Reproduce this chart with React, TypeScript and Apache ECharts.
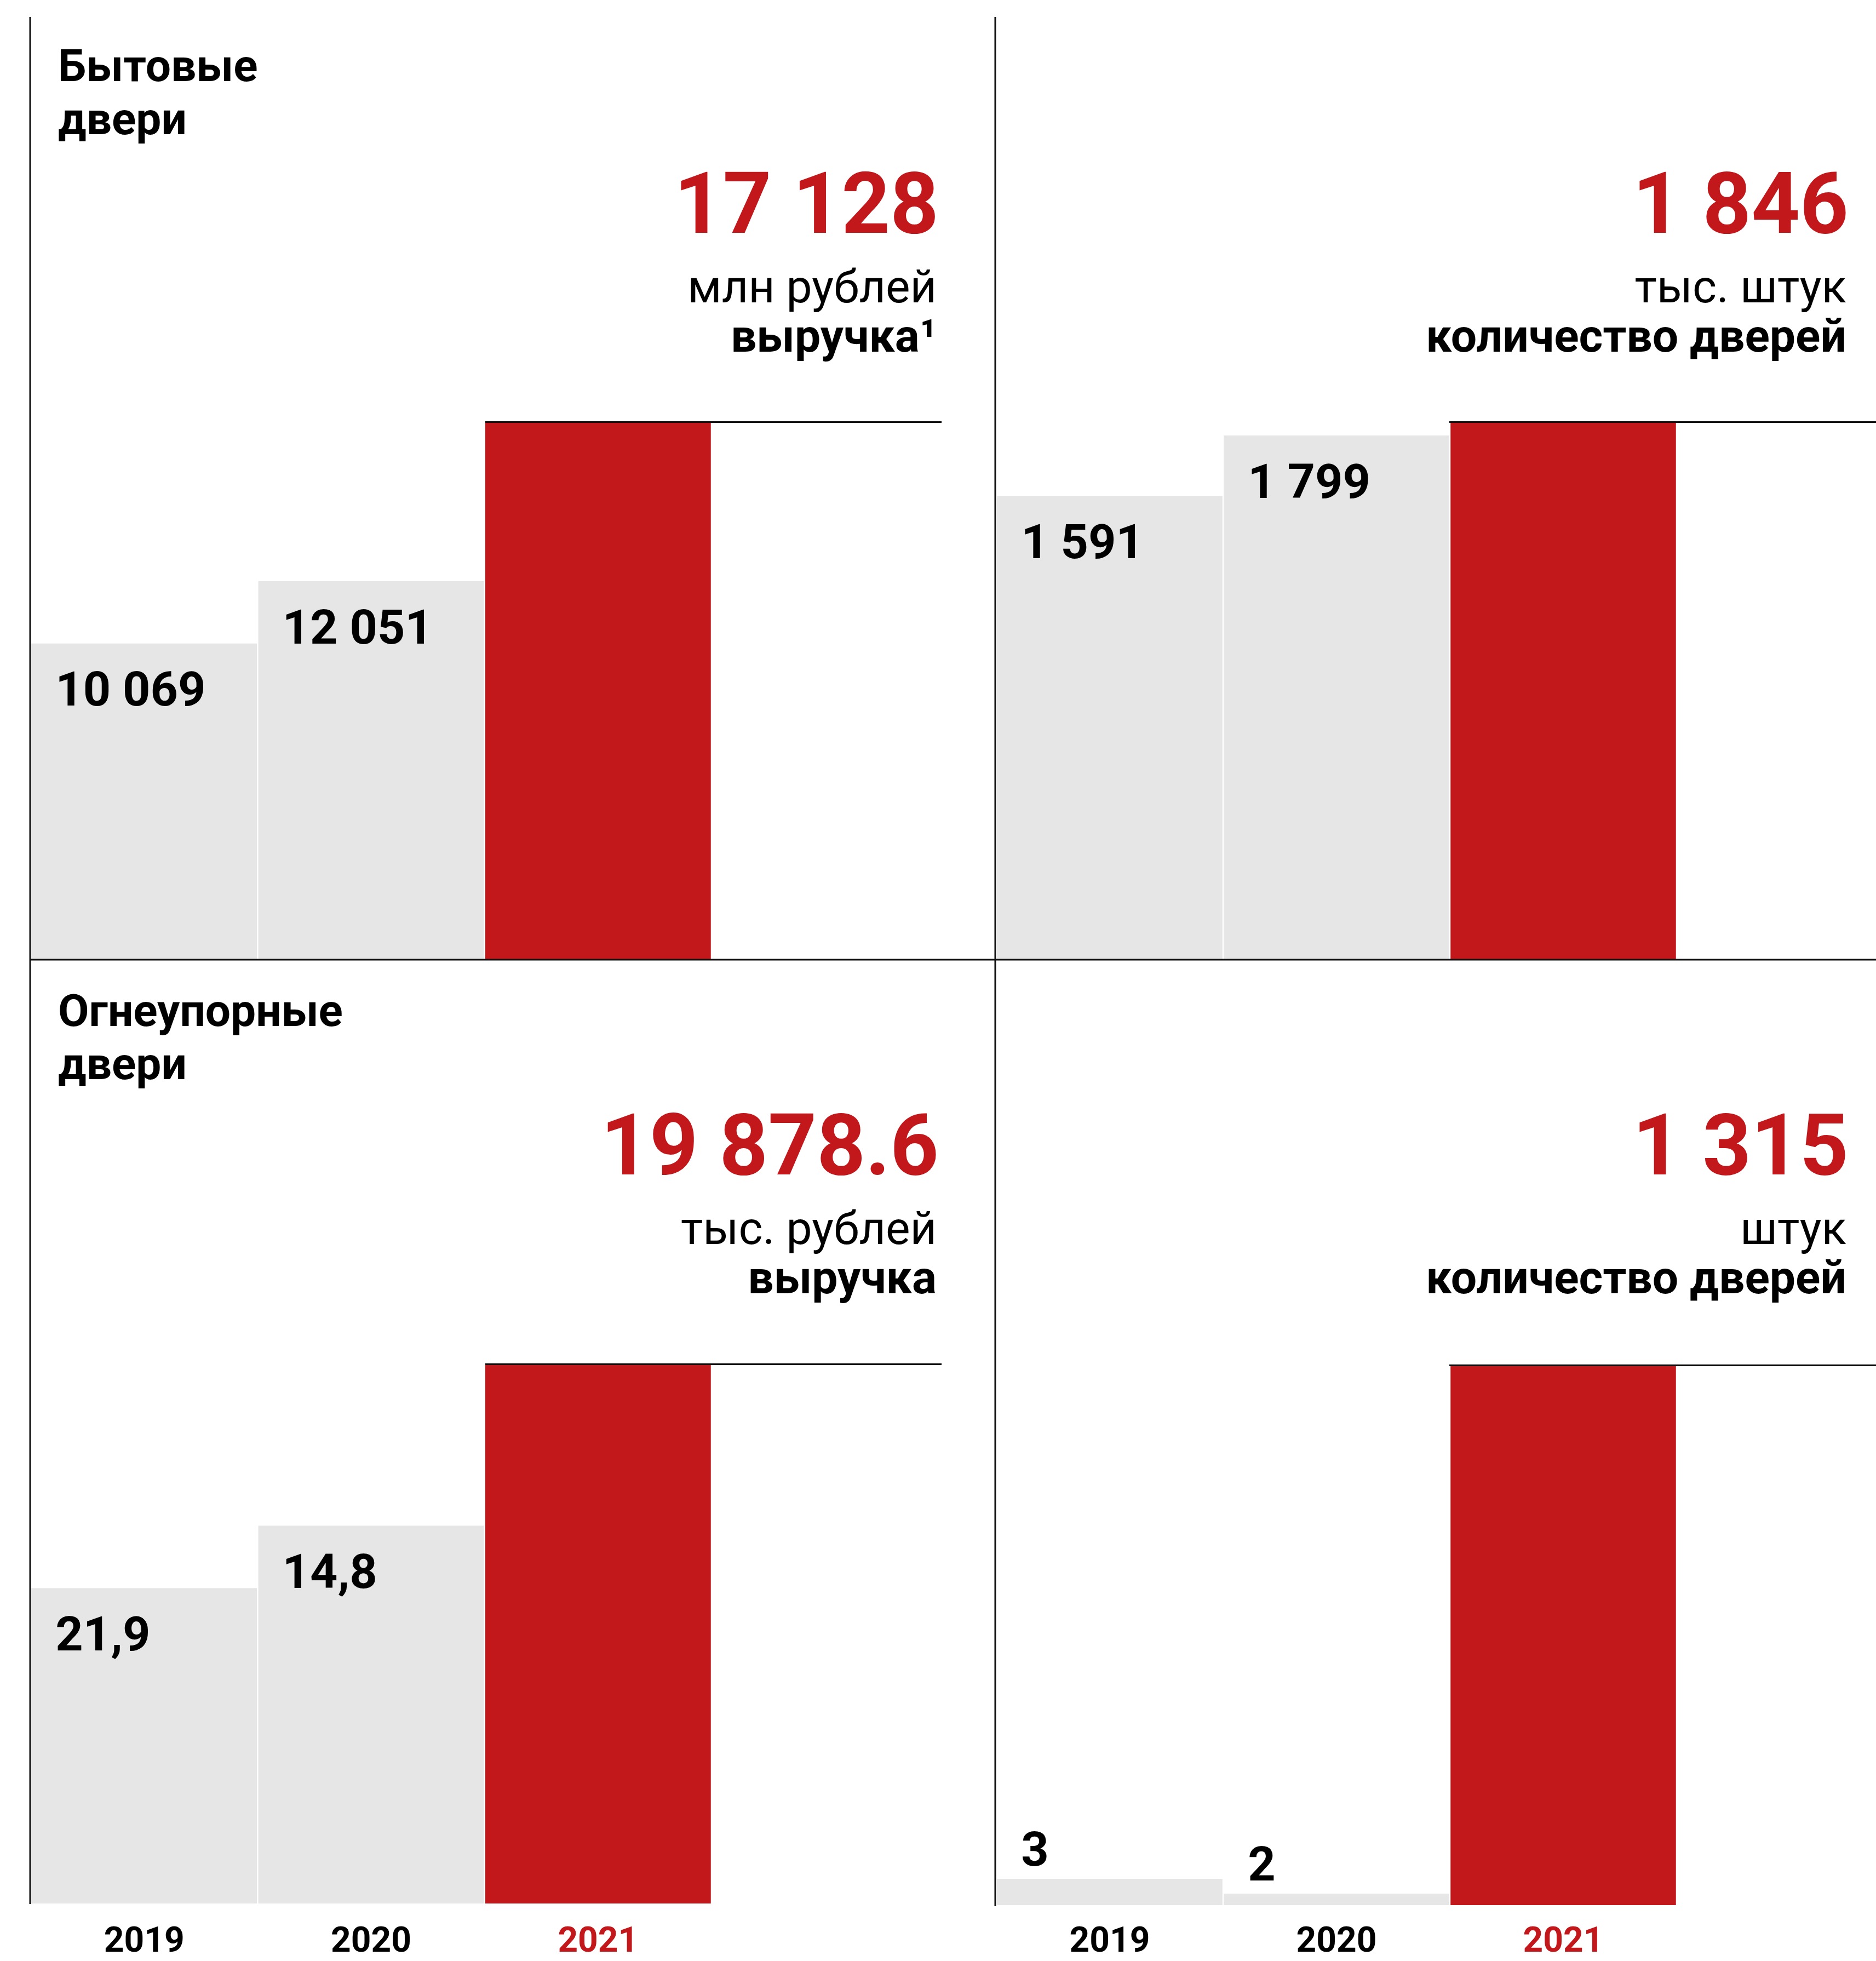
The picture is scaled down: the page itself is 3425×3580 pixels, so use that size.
import React, { useEffect, useRef } from "react";
import * as echarts from "echarts";

// ---------- data ----------
const years = ["2019", "2020", "2021"];
// Household doors: revenue, mln roubles
const householdRevenue = [10069, 12051, 17128];
// Household doors: number of doors, thousand pieces
const householdDoors = [1591, 1799, 1846];
// Fire-proof doors: revenue labels as printed (the source does not draw these bars to scale)
const fireRevenueLabels = ["21,9", "14,8"];
const fireRevenueTotal = 19878.6;
// bar heights as drawn in the source, in units of the 2021 value
const fireRevenueBarHeights = [11620, 13920, 19878.6];
// Fire-proof doors: number of doors, pieces
const fireDoors = [3, 2, 1315];
// bar heights as drawn in the source, in units of the 2021 value
const fireDoorsBarHeights = [64, 28, 1315];

const titles = ["Бытовые\nдвери", "Огнеупорные\nдвери"];
const units = ["млн рублей", "тыс. штук", "тыс. рублей", "штук"];
const measures = ["выручка¹", "количество дверей", "выручка", "количество дверей"];

// ---------- styles ----------
const RED = "#C2171B";
const GRAY = "#E6E6E6";
const INK = "#111111";
const FONT = "Roboto, 'Noto Sans', sans-serif";

function fmt(n: number): string {
  const parts = String(n).split(".");
  const s = parts[0].replace(/\B(?=(\d{3})+(?!\d))/g, " ");
  return parts.length > 1 ? s + "." + parts[1] : s;
}

const panels = [
  {
    heights: householdRevenue,
    labels: householdRevenue.map(fmt),
    headline: fmt(householdRevenue[2]),
    grid: { left: 56, top: 770, width: 1243, height: 982 },
    above: false,
    showYears: false,
    lineFrom: 886,
    lineTo: 1719,
    right: 1710,
    base: 0,
  },
  {
    heights: householdDoors,
    labels: householdDoors.map(fmt),
    headline: fmt(householdDoors[2]),
    grid: { left: 1819, top: 770, width: 1242, height: 982 },
    above: false,
    showYears: false,
    lineFrom: 2646,
    lineTo: 3425,
    right: 3371,
    base: 0,
  },
  {
    heights: fireRevenueBarHeights,
    labels: fireRevenueLabels,
    headline: fmt(fireRevenueTotal),
    grid: { left: 56, top: 2490, width: 1243, height: 985 },
    above: false,
    showYears: true,
    lineFrom: 886,
    lineTo: 1719,
    right: 1710,
    base: 1719,
  },
  {
    heights: fireDoorsBarHeights,
    labels: fireDoors.map(fmt),
    headline: fmt(fireDoors[2]),
    grid: { left: 1819, top: 2492, width: 1242, height: 986 },
    above: true,
    showYears: true,
    lineFrom: 2646,
    lineTo: 3425,
    right: 3371,
    base: 1719,
  },
];

function txt(text: string, x: number, baseline: number, size: number, weight: any, color: string, align: string) {
  return {
    type: "text",
    x,
    y: baseline - 0.342 * size,
    z: 100,
    silent: true,
    style: {
      text,
      fill: color,
      fontSize: size,
      fontWeight: weight,
      fontFamily: FONT,
      align,
      verticalAlign: "middle",
      textAlign: align,
      textVerticalAlign: "middle",
    },
  };
}

export default function App() {
  const ref = useRef<HTMLDivElement>(null);

  useEffect(() => {
    if (!ref.current) return;
    const chart = echarts.init(ref.current, undefined, { renderer: "svg" });

    const elements: any[] = [
      { type: "line", z: 100, silent: true, shape: { x1: 55, y1: 31, x2: 55, y2: 3476 }, style: { stroke: INK, lineWidth: 3 } },
      { type: "line", z: 100, silent: true, shape: { x1: 1817, y1: 31, x2: 1817, y2: 3480 }, style: { stroke: INK, lineWidth: 3 } },
      { type: "line", z: 100, silent: true, shape: { x1: 55, y1: 1752, x2: 3425, y2: 1752 }, style: { stroke: INK, lineWidth: 3 } },
    ];

    // panel titles (two lines each, one text element)
    titles.forEach((t, i) => {
      const off = i === 0 ? 0 : 1725;
      const fs = 82;
      const lh = 97;
      const firstCenter = 148 - 0.342 * fs + off;
      elements.push({
        type: "text",
        x: 106,
        y: firstCenter - lh / 2,
        z: 100,
        silent: true,
        style: {
          text: t,
          fill: "#000",
          fontSize: fs,
          fontWeight: "bold",
          fontFamily: FONT,
          lineHeight: lh,
          align: "left",
          verticalAlign: "top",
          textAlign: "left",
          textVerticalAlign: "top",
        },
      });
    });

    // headline numbers, units, measures
    panels.forEach((p, i) => {
      elements.push(txt(p.headline, p.right + 4, 425 + p.base, 155, "bold", RED, "right"));
      elements.push(txt(units[i], p.right, 552 + p.base, 84, "normal", "#000", "right"));
      elements.push(txt(measures[i], p.right, 642 + p.base, 84, "bold", "#000", "right"));
    });

    const option: any = {
      animation: false,
      backgroundColor: "#ffffff",
      grid: panels.map((p) => ({ ...p.grid, containLabel: false })),
      xAxis: panels.map((p, i) => ({
        type: "category",
        gridIndex: i,
        data: years,
        axisLine: { show: false },
        axisTick: { show: false },
        splitLine: { show: false },
        axisLabel: {
          show: p.showYears,
          margin: i === 3 ? 63 : 66,
          verticalAlign: "middle",
          lineHeight: 48,
          fontFamily: FONT,
          fontWeight: "bold",
          fontSize: 64,
          color: (_v: any, idx: number) => (idx === 2 ? RED : "#000"),
        },
      })),
      yAxis: panels.map((p, i) => ({
        type: "value",
        gridIndex: i,
        min: 0,
        max: p.heights[2],
        show: false,
        splitLine: { show: false },
      })),
      series: panels.map((p, i) => ({
        type: "bar",
        xAxisIndex: i,
        yAxisIndex: i,
        barCategoryGap: "0.6%",
        data: p.heights.map((h, j) => ({
          value: h,
          itemStyle: { color: j === 2 ? RED : GRAY },
          label: { show: j < 2 },
        })),
        label: {
          show: true,
          position: p.above ? [44, -55] : [44, 83],
          align: "left",
          verticalAlign: "middle",
          formatter: (prm: any) => p.labels[prm.dataIndex],
          fontFamily: FONT,
          fontWeight: "bold",
          fontSize: 88,
          color: "#000",
        },
        markLine: {
          symbol: "none",
          silent: true,
          label: { show: false },
          lineStyle: { color: INK, width: 3, type: "solid" },
          emphasis: { disabled: true },
          data: [
            [
              { xAxis: years[2], yAxis: p.heights[2], x: p.lineFrom },
              { xAxis: years[2], yAxis: p.heights[2], x: p.lineTo },
            ],
          ],
        },
      })),
      graphic: { elements },
    };

    chart.setOption(option);
    return () => chart.dispose();
  }, []);

  return (
    <div
      ref={ref}
      style={{ position: "absolute", left: 0, top: 0, width: 3425, height: 3580, background: "#fff" }}
    />
  );
}
